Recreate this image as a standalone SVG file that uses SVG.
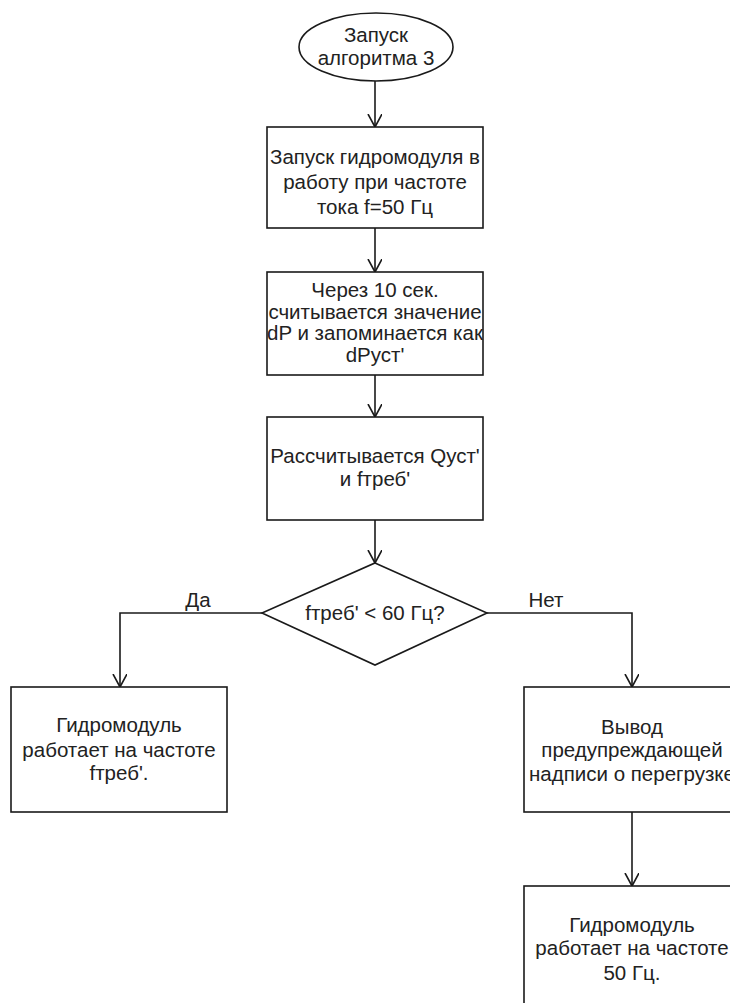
<svg xmlns="http://www.w3.org/2000/svg" width="730" height="1003" viewBox="0 0 730 1003">
<style>
.shape{fill:#fff;stroke:#1a1a1a;stroke-width:1.6}
.conn{fill:none;stroke:#1a1a1a;stroke-width:1.6}
text{font-family:"Liberation Sans",Arial,sans-serif;font-size:20.5px;fill:#222;text-anchor:middle}
</style>
<defs>
<marker id="arr" markerWidth="16" markerHeight="16" refX="13" refY="7" orient="auto" markerUnits="userSpaceOnUse">
<path d="M0,0 L13,7 L0,14" fill="none" stroke="#1a1a1a" stroke-width="1.6"/>
</marker>
</defs>
<rect width="730" height="1003" fill="#fff"/>
<g id="connectors">
<line class="conn" x1="375" y1="81" x2="375" y2="127" marker-end="url(#arr)"/>
<line class="conn" x1="375" y1="228" x2="375" y2="272" marker-end="url(#arr)"/>
<line class="conn" x1="375" y1="375" x2="375" y2="417" marker-end="url(#arr)"/>
<line class="conn" x1="375" y1="520" x2="375" y2="563" marker-end="url(#arr)"/>
<polyline class="conn" points="262,613 120,613 120,687" marker-end="url(#arr)"/>
<polyline class="conn" points="487,613 632,613 632,687" marker-end="url(#arr)"/>
<line class="conn" x1="632" y1="812" x2="632" y2="886" marker-end="url(#arr)"/>
<text x="198" y="607">Да</text>
<text x="546" y="607">Нет</text>
</g>
<g id="start">
<ellipse class="shape" cx="376" cy="47" rx="77" ry="34"/>
<text x="376" y="42">Запуск</text>
<text x="376" y="65">алгоритма 3</text>
</g>
<g id="box1">
<rect class="shape" x="267" y="127" width="216" height="101"/>
<text x="375" y="164">Запуск гидромодуля в</text>
<text x="375" y="189">работу при частоте</text>
<text x="375" y="214">тока f=50 Гц</text>
</g>
<g id="box2">
<rect class="shape" x="267" y="272" width="216" height="103"/>
<text x="375" y="297">Через 10 сек.</text>
<text x="375" y="319">считывается значение</text>
<text x="375" y="340">dP и запоминается как</text>
<text x="375" y="362">dPуст'</text>
</g>
<g id="box3">
<rect class="shape" x="267" y="417" width="216" height="103"/>
<text x="375" y="463">Рассчитывается Qуст'</text>
<text x="375" y="486">и fтреб'</text>
</g>
<g id="decision">
<polygon class="shape" points="375,563 487,613 375,665 262,613"/>
<text x="375" y="620">fтреб' &lt; 60 Гц?</text>
</g>
<g id="box_yes">
<rect class="shape" x="11" y="687" width="216" height="125"/>
<text x="119" y="732">Гидромодуль</text>
<text x="119" y="757">работает на частоте</text>
<text x="119" y="780">fтреб'.</text>
</g>
<g id="box_no">
<rect class="shape" x="524" y="687" width="216" height="125"/>
<text x="632" y="734">Вывод</text>
<text x="632" y="757">предупреждающей</text>
<text x="632" y="781">надписи о перегрузке</text>
</g>
<g id="box_50">
<rect class="shape" x="524" y="886" width="216" height="125"/>
<text x="632" y="932">Гидромодуль</text>
<text x="632" y="955">работает на частоте</text>
<text x="632" y="980">50 Гц.</text>
</g>
</svg>
